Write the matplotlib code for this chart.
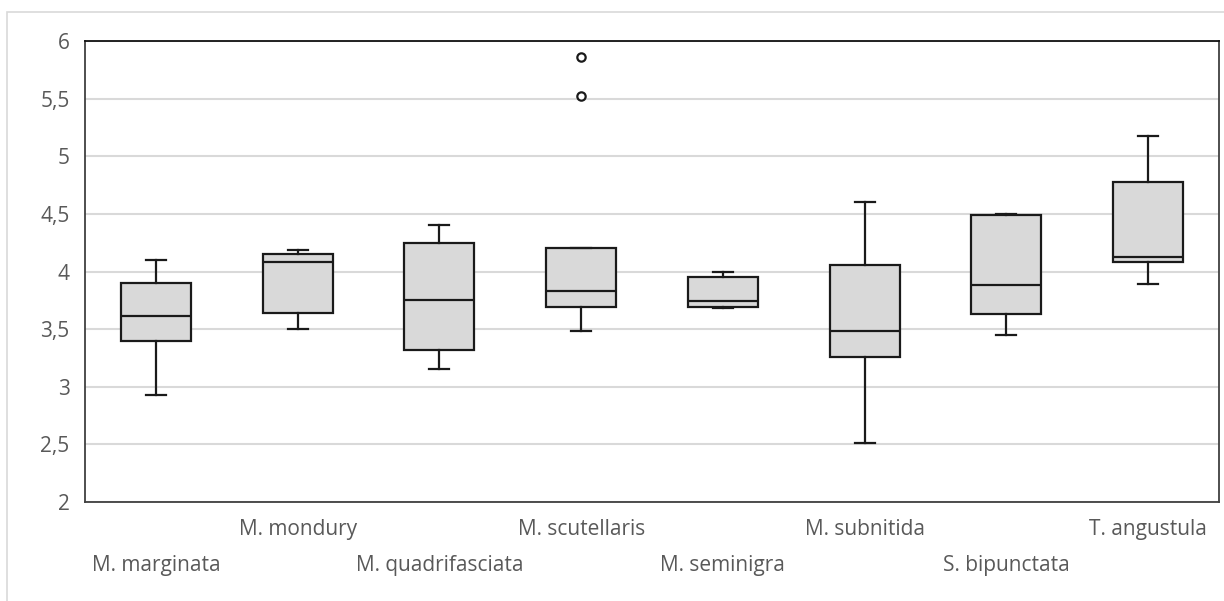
import numpy as np
import matplotlib
matplotlib.use("Agg")
import matplotlib.pyplot as plt
from matplotlib.patches import Rectangle

species = ["M. marginata", "M. mondury", "M. quadrifasciata", "M. scutellaris",
           "M. seminigra", "M. subnitida", "S. bipunctata", "T. angustula"]
whisker_low = [2.93, 3.50, 3.15, 3.48, 3.68, 2.51, 3.45, 3.89]
q1 = [3.40, 3.64, 3.32, 3.69, 3.69, 3.26, 3.63, 4.08]
median = [3.61, 4.08, 3.75, 3.83, 3.745, 3.48, 3.88, 4.13]
q3 = [3.90, 4.15, 4.25, 4.20, 3.95, 4.06, 4.49, 4.78]
whisker_high = [4.10, 4.19, 4.40, 4.20, 4.00, 4.60, 4.50, 5.18]
outliers = [[], [], [], [5.86, 5.52], [], [], [], []]

yticks = [2, 2.5, 3, 3.5, 4, 4.5, 5, 5.5, 6]
ytick_labels = ["2", "2,5", "3", "3,5", "4", "4,5", "5", "5,5", "6"]

plt.rcParams["font.family"] = ["Open Sans", "DejaVu Sans"]
text_color = "#595959"
edge = "#1a1a1a"

fig = plt.figure(figsize=(12.24, 6.01), dpi=100)
ax = fig.add_axes([85 / 1224, 99 / 601, 1134 / 1224, 461 / 601])

# outer chart border
fig.patches.append(Rectangle((7 / 1224, -0.1), 1.2, (601 - 12) / 601 + 0.1,
                             transform=fig.transFigure, fill=False,
                             edgecolor="#d9d9d9", lw=1.2))

stats = []
for i, name in enumerate(species):
    stats.append(dict(label=name, whislo=whisker_low[i], q1=q1[i], med=median[i],
                      q3=q3[i], whishi=whisker_high[i], fliers=outliers[i]))

ax.bxp(stats, positions=range(1, len(species) + 1), widths=0.495,
       capwidths=0.14, patch_artist=True, showfliers=True,
       boxprops=dict(facecolor="#d9d9d9", edgecolor=edge, lw=1.6),
       medianprops=dict(color=edge, lw=1.6),
       whiskerprops=dict(color=edge, lw=1.6),
       capprops=dict(color=edge, lw=1.6),
       flierprops=dict(marker="o", markersize=6, markerfacecolor="white",
                       markeredgecolor=edge, markeredgewidth=1.6))

ax.set_xlim(0.5, len(species) + 0.5)
ax.set_ylim(2, 6)
ax.set_yticks(yticks)
ax.set_yticklabels(ytick_labels)
ax.yaxis.grid(True, color="#d9d9d9", lw=1.5)
ax.set_axisbelow(True)

ax.set_xticks(range(1, len(species) + 1))
ax.set_xticklabels(species)
ax.tick_params(axis="both", length=0, labelsize=15, labelcolor=text_color)
ax.tick_params(axis="y", pad=11)
for i, tick in enumerate(ax.xaxis.get_major_ticks()):
    tick.set_pad(38 if i % 2 == 0 else 12)

for side in ["left", "right", "bottom"]:
    ax.spines[side].set_color("#404040")
    ax.spines[side].set_linewidth(1.3)
ax.spines["top"].set_color("#111111")
ax.spines["top"].set_linewidth(1.3)

fig.savefig("out.png", dpi=100)
